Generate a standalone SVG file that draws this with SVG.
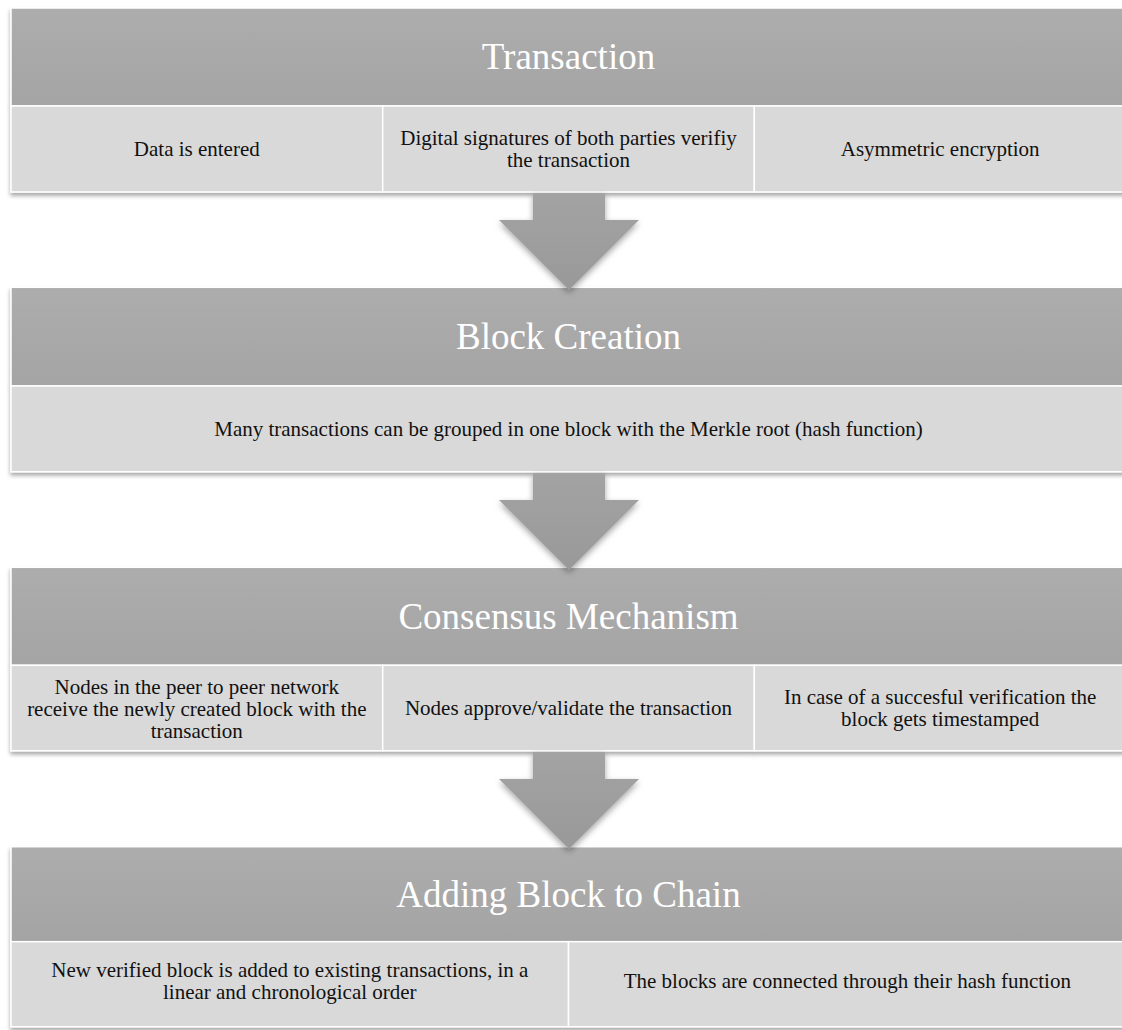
<svg xmlns="http://www.w3.org/2000/svg" width="1122" height="1030" viewBox="0 0 1122 1030">
  <defs>
    <linearGradient id="hdr" x1="0" y1="0" x2="0" y2="1">
      <stop offset="0" stop-color="#adadad"/>
      <stop offset="1" stop-color="#a4a4a4"/>
    </linearGradient>
    <linearGradient id="arr" x1="0" y1="0" x2="0" y2="1">
      <stop offset="0" stop-color="#a3a3a3"/>
      <stop offset="1" stop-color="#999999"/>
    </linearGradient>
    <filter id="sh" x="-5%" y="-10%" width="110%" height="130%">
      <feDropShadow dx="0" dy="3" stdDeviation="2.2" flood-color="#000" flood-opacity="0.35"/>
    </filter>
    <filter id="ash" x="-20%" y="-20%" width="140%" height="150%">
      <feDropShadow dx="0" dy="3" stdDeviation="3" flood-color="#000" flood-opacity="0.35"/>
    </filter>
  </defs>
  <style>
    .hdr { fill: url(#hdr); stroke: #ffffff; stroke-width: 1.5; }
    .cell { fill: #d9d9d9; stroke: #ffffff; stroke-width: 1.5; }
    .ht { font-family: "Liberation Serif", "Times New Roman", serif; font-size: 37px; fill: #ffffff; text-anchor: middle; }
    .ct { font-family: "Liberation Serif", "Times New Roman", serif; font-size: 21px; fill: #111111; text-anchor: middle; }
    .arrow { fill: url(#arr); filter: url(#ash); }
  </style>
  <rect width="1122" height="1030" fill="#ffffff"/>

  <g id="section-transaction">
    <g filter="url(#sh)">
      <rect class="hdr" x="11" y="8" width="1115" height="98"/>
      <rect class="cell" x="11" y="106" width="371.7" height="86"/>
      <rect class="cell" x="382.7" y="106" width="371.6" height="86"/>
      <rect class="cell" x="754.3" y="106" width="371.7" height="86"/>
    </g>
    <text class="ht" x="568.5" y="69">Transaction</text>
    <text class="ct" x="196.8" y="156">Data is entered</text>
    <text class="ct" x="568.5" y="145">Digital signatures of both parties verifiy</text>
    <text class="ct" x="568.5" y="167">the transaction</text>
    <text class="ct" x="940.2" y="156">Asymmetric encryption</text>
  </g>

  <g id="section-block-creation">
    <g filter="url(#sh)">
      <rect class="hdr" x="11" y="287.3" width="1115" height="98.7"/>
      <rect class="cell" x="11" y="386" width="1115" height="85.7"/>
    </g>
    <text class="ht" x="568.5" y="349">Block Creation</text>
    <text class="ct" x="568.5" y="436">Many transactions can be grouped in one block with the Merkle root (hash function)</text>
  </g>

  <g id="section-consensus">
    <g filter="url(#sh)">
      <rect class="hdr" x="11" y="567.3" width="1115" height="98"/>
      <rect class="cell" x="11" y="665.3" width="371.7" height="85.4"/>
      <rect class="cell" x="382.7" y="665.3" width="371.6" height="85.4"/>
      <rect class="cell" x="754.3" y="665.3" width="371.7" height="85.4"/>
    </g>
    <text class="ht" x="568.5" y="628.5">Consensus Mechanism</text>
    <text class="ct" x="196.8" y="693.5">Nodes in the peer to peer network</text>
    <text class="ct" x="196.8" y="715.5">receive the newly created block with the</text>
    <text class="ct" x="196.8" y="737.5">transaction</text>
    <text class="ct" x="568.5" y="715">Nodes approve/validate the transaction</text>
    <text class="ct" x="940.2" y="704">In case of a succesful verification the</text>
    <text class="ct" x="940.2" y="726">block gets timestamped</text>
  </g>

  <g id="section-adding-block">
    <g filter="url(#sh)">
      <rect class="hdr" x="11" y="846.7" width="1115" height="95"/>
      <rect class="cell" x="11" y="941.7" width="557.5" height="85"/>
      <rect class="cell" x="568.5" y="941.7" width="557.5" height="85"/>
    </g>
    <text class="ht" x="568.5" y="906.5">Adding Block to Chain</text>
    <text class="ct" x="289.8" y="977">New verified block is added to existing transactions, in a</text>
    <text class="ct" x="289.8" y="999">linear and chronological order</text>
    <text class="ct" x="847.3" y="988">The blocks are connected through their hash function</text>
  </g>

  <g id="connectors">
    <path class="arrow" d="M533,193 L605,193 L605,220 L639,220 L569,290 L499,220 L533,220 Z"/>
    <path class="arrow" d="M533,473 L605,473 L605,500 L639,500 L569,570 L499,500 L533,500 Z"/>
    <path class="arrow" d="M533,752 L605,752 L605,779 L639,779 L569,849 L499,779 L533,779 Z"/>
  </g>
</svg>
